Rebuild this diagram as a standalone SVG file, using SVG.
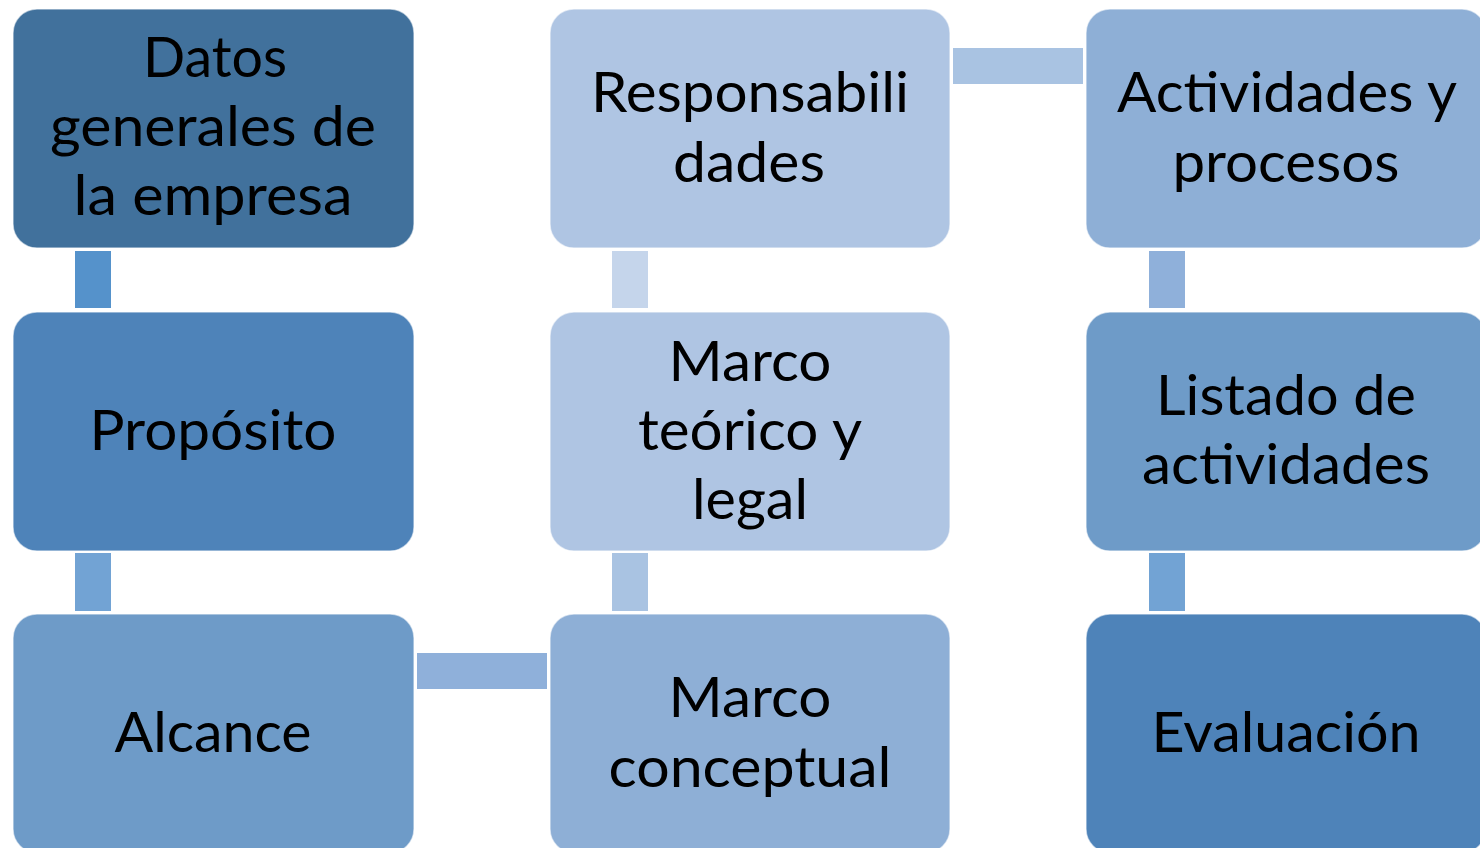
<svg xmlns="http://www.w3.org/2000/svg" width="1480" height="848" viewBox="0 0 1480 848">
<style>
.box{stroke:#ffffff;stroke-opacity:0.55;stroke-width:1.5}
.t{font-family:Lato,"Open Sans","Liberation Sans",sans-serif;font-size:56px;fill:#000000;text-anchor:middle}
</style>
<rect width="1480" height="848" fill="#ffffff"/>
<g id="connectors">
<rect x="75" y="251" width="36" height="57" fill="#5592CB"/>
<rect x="75" y="553" width="36" height="58" fill="#72A3D4"/>
<rect x="417" y="653" width="130" height="36" fill="#8FB0DA"/>
<rect x="612" y="553" width="36" height="58" fill="#A9C3E2"/>
<rect x="612" y="251" width="36" height="57" fill="#C5D5EB"/>
<rect x="953" y="48" width="130" height="36" fill="#A9C3E2"/>
<rect x="1149" y="251" width="36" height="57" fill="#8FB0DA"/>
<rect x="1149" y="553" width="36" height="58" fill="#72A3D4"/>
</g>
<g id="n1">
<rect class="box" x="13" y="9" width="401" height="239" rx="24" fill="#41719C"/>
<text class="t" x="215" y="77" textLength="144" lengthAdjust="spacingAndGlyphs">Datos</text>
<text class="t" x="213" y="146" textLength="326" lengthAdjust="spacingAndGlyphs">generales de</text>
<text class="t" x="213" y="215" textLength="279" lengthAdjust="spacingAndGlyphs">la empresa</text>
</g>
<g id="n2">
<rect class="box" x="13" y="312" width="401" height="239" rx="24" fill="#4E83B9"/>
<text class="t" x="213" y="450" textLength="247" lengthAdjust="spacingAndGlyphs">Propósito</text>
</g>
<g id="n3">
<rect class="box" x="13" y="614" width="401" height="239" rx="24" fill="#6E9BC8"/>
<text class="t" x="213" y="752" textLength="197" lengthAdjust="spacingAndGlyphs">Alcance</text>
</g>
<g id="n4">
<rect class="box" x="550" y="614" width="400" height="239" rx="24" fill="#8EAFD6"/>
<text class="t" x="750" y="717" textLength="163" lengthAdjust="spacingAndGlyphs">Marco</text>
<text class="t" x="750" y="787" textLength="283" lengthAdjust="spacingAndGlyphs">conceptual</text>
</g>
<g id="n5">
<rect class="box" x="550" y="312" width="400" height="239" rx="24" fill="#AFC5E3"/>
<text class="t" x="750" y="381" textLength="163" lengthAdjust="spacingAndGlyphs">Marco</text>
<text class="t" x="750" y="450" textLength="224" lengthAdjust="spacingAndGlyphs">teórico y</text>
<text class="t" x="750" y="519" textLength="116" lengthAdjust="spacingAndGlyphs">legal</text>
</g>
<g id="n6">
<rect class="box" x="550" y="9" width="400" height="239" rx="24" fill="#AFC5E3"/>
<text class="t" x="750" y="112" textLength="318" lengthAdjust="spacingAndGlyphs">Responsabili</text>
<text class="t" x="749" y="182" textLength="152" lengthAdjust="spacingAndGlyphs">dades</text>
</g>
<g id="n7">
<rect class="box" x="1086" y="9" width="400" height="239" rx="24" fill="#8EAFD6"/>
<text class="t" x="1287" y="112" textLength="340" lengthAdjust="spacingAndGlyphs">Actividades y</text>
<text class="t" x="1286" y="182" textLength="227" lengthAdjust="spacingAndGlyphs">procesos</text>
</g>
<g id="n8">
<rect class="box" x="1086" y="312" width="400" height="239" rx="24" fill="#6E9BC8"/>
<text class="t" x="1286" y="415" textLength="260" lengthAdjust="spacingAndGlyphs">Listado de</text>
<text class="t" x="1286" y="484" textLength="288" lengthAdjust="spacingAndGlyphs">actividades</text>
</g>
<g id="n9">
<rect class="box" x="1086" y="614" width="400" height="239" rx="24" fill="#4E83B9"/>
<text class="t" x="1286" y="752" textLength="269" lengthAdjust="spacingAndGlyphs">Evaluación</text>
</g>
</svg>
